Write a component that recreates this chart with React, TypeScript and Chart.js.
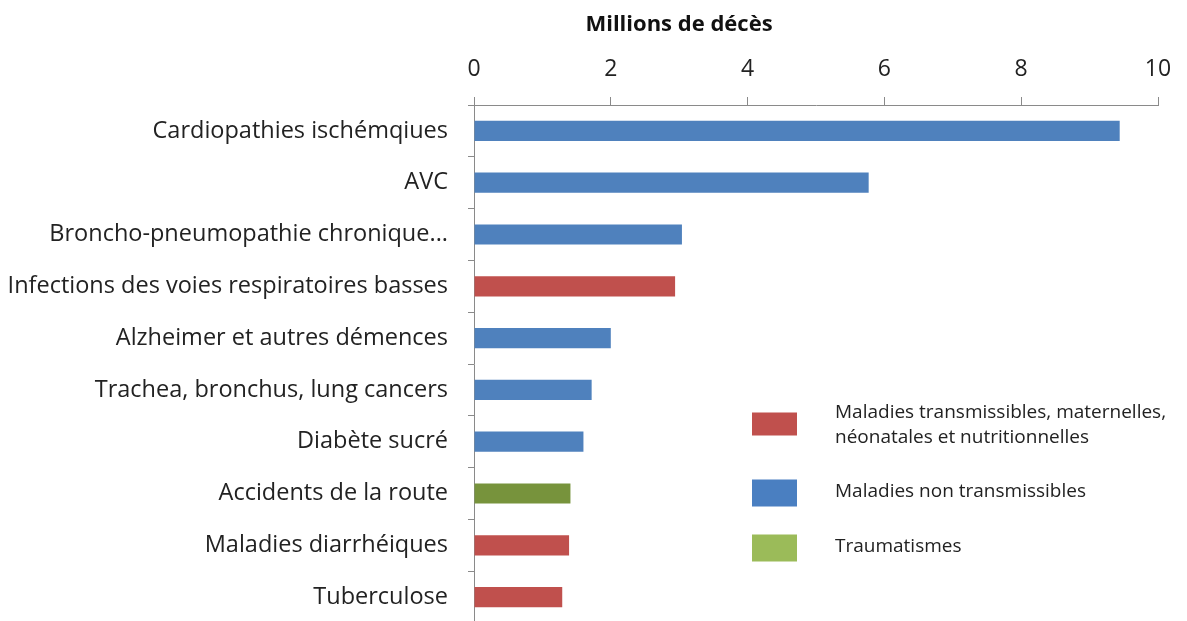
import React, { useEffect, useRef } from "react";
import { Chart, registerables } from "chart.js";

Chart.register(...registerables);

const categories = [
  "Cardiopathies ischémqiues",
  "AVC",
  "Broncho-pneumopathie chronique...",
  "Infections des voies respiratoires basses",
  "Alzheimer et autres démences",
  "Trachea, bronchus, lung cancers",
  "Diabète sucré",
  "Accidents de la route",
  "Maladies diarrhéiques",
  "Tuberculose",
];

const deaths = [9.44, 5.77, 3.04, 2.94, 2.0, 1.72, 1.6, 1.41, 1.39, 1.29];

const groups = ["nt", "nt", "nt", "t", "nt", "nt", "nt", "tr", "t", "t"];

const barColors: Record<string, string> = {
  t: "#C0504D",
  nt: "#4F81BD",
  tr: "#77933C",
};

const legendLabels = [
  ["Maladies transmissibles, maternelles,", "néonatales et nutritionnelles"],
  ["Maladies non transmissibles"],
  ["Traumatismes"],
];
const legendColors = ["#C0504D", "#4A7FC1", "#9BBB59"];

const xTicks = [0, 2, 4, 6, 8, 10];
const axisTitle = "Millions de décès";

const FONT = "'Open Sans', Lato, sans-serif";

const overlayPlugin = {
  id: "overlay",
  afterDraw(chart: any) {
    const { ctx, chartArea } = chart;
    ctx.save();
    // title
    ctx.font = `bold 22px ${FONT}`;
    ctx.fillStyle = "#111";
    ctx.textAlign = "center";
    ctx.textBaseline = "middle";
    ctx.fillText(axisTitle, chartArea.left + 205, 25);
    // legend
    const boxX = chartArea.left + 278;
    const textX = chartArea.left + 361;
    const boxes = [
      { cy: chartArea.top + 319, h: 23 },
      { cy: chartArea.top + 388, h: 27 },
      { cy: chartArea.top + 443, h: 27 },
    ];
    ctx.font = `19px ${FONT}`;
    ctx.textAlign = "left";
    legendLabels.forEach((lines, i) => {
      const { cy, h } = boxes[i];
      ctx.fillStyle = legendColors[i];
      ctx.fillRect(boxX, cy - h / 2, 45, h);
      ctx.fillStyle = "#222";
      if (lines.length > 1) {
        ctx.fillText(lines[0], textX, cy - 11);
        ctx.fillText(lines[1], textX, cy + 14);
      } else {
        ctx.fillText(lines[0], textX, cy - 1);
      }
    });
    ctx.restore();
  },
};

export default function App() {
  const ref = useRef<HTMLCanvasElement | null>(null);
  useEffect(() => {
    document.body.style.margin = "0";
    document.body.style.overflow = "hidden";
    if (!ref.current) return;
    const chart = new Chart(ref.current, {
      type: "bar",
      data: {
        labels: categories,
        datasets: [
          {
            data: deaths,
            backgroundColor: groups.map((g) => barColors[g]),
            categoryPercentage: 1,
            barPercentage: 0.39,
          },
        ],
      },
      options: {
        indexAxis: "y",
        animation: false,
        responsive: false,
        maintainAspectRatio: false,
        layout: { padding: { top: 0, right: 29, bottom: 0, left: 0 } },
        plugins: { legend: { display: false }, tooltip: { enabled: false } },
        scales: {
          x: {
            position: "top",
            min: 0,
            max: 10,
            afterFit: (s: any) => {
              s.height = 105;
              s.paddingLeft = 0;
              s.paddingRight = 0;
            },
            afterBuildTicks: (s: any) => {
              s.ticks = xTicks.map((v) => ({ value: v }));
            },
            ticks: {
              font: { family: FONT, size: 23 },
              color: "#222",
              padding: 14,
            },
            grid: {
              display: true,
              drawOnChartArea: false,
              drawTicks: true,
              tickLength: 8,
              color: "#8a8a8a",
            },
            border: { display: true, color: "#8a8a8a" },
          },
          y: {
            afterFit: (s: any) => {
              s.width = 474;
              s.paddingTop = 0;
              s.paddingBottom = 0;
            },
            ticks: {
              font: { family: FONT, size: 23.5 },
              color: "#222",
              padding: 20,
              autoSkip: false,
            },
            grid: {
              display: true,
              drawOnChartArea: false,
              drawTicks: true,
              tickLength: 6,
              offset: true,
              color: "#8a8a8a",
            },
            border: { display: true, color: "#8a8a8a" },
          },
        },
      },
      plugins: [overlayPlugin],
    });
    return () => chart.destroy();
  }, []);
  return (
    <div style={{ width: 1187, height: 623, position: "relative" }}>
      <canvas ref={ref} width={1187} height={623} style={{ display: "block" }} />
    </div>
  );
}
